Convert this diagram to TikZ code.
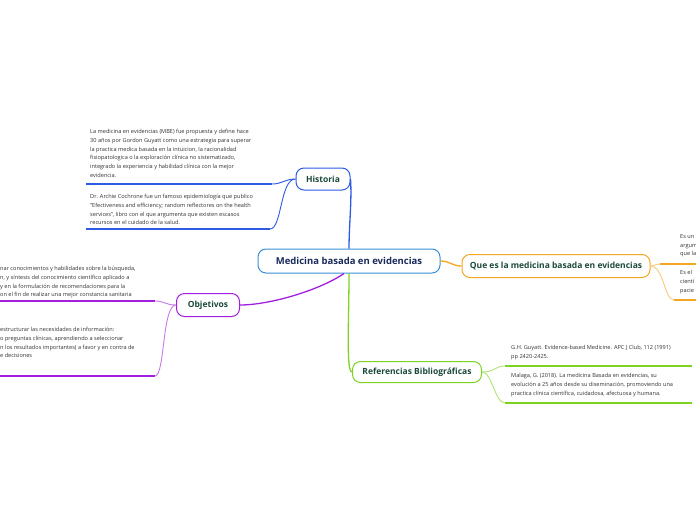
\documentclass[tikz,border=0pt]{standalone}
\usepackage{fontspec}
\setmainfont{Open Sans}
\definecolor{tblue}{HTML}{2D5BE3}
\definecolor{cblue}{HTML}{3A8FD6}
\definecolor{torange}{HTML}{F5A623}
\definecolor{tgreen}{HTML}{7ED321}
\definecolor{tpurple}{HTML}{A21FE0}
\definecolor{ttext}{HTML}{1B4A3A}
\definecolor{mtext}{HTML}{1A2A5A}
\begin{document}
\begin{tikzpicture}[x=1pt,y=-1pt,
  topic/.style={draw,line width=1pt,rounded corners=8pt,inner sep=0pt,font=\fontsize{8.5}{10}\selectfont\bfseries,text=ttext},
  sub/.style={anchor=north west,align=left,inner sep=0pt,font=\fontsize{5.6}{8.8}\selectfont,text=black!80},
  ul/.style={line width=1.2pt},
  conn/.style={line width=0.9pt}]
\useasboundingbox (0,0) rectangle (696,520);
\fill[white] (0,0) rectangle (696,520);
% central
\node[topic,draw=cblue,text=mtext,minimum width=182pt,minimum height=24pt,font=\fontsize{9.5}{11}\selectfont\bfseries] (c) at (349,261) {Medicina basada en evidencias};
% Historia
\node[topic,draw=tblue,minimum width=54pt,minimum height=22pt] (h) at (323,179) {Historia};
\node[sub] (h1) at (90,129) {La medicina en evidencias (MBE) fue propuesta y define hace\\30 años por Gordon Guyatt como una estrategia para superar\\la practica medica basada en la intuicion, la racionalidad\\fisiopatologica o la exploración clínica no sistematizado,\\integrado la experiencia y habilidad clínica con la mejor\\evidencia.};
\node[sub] (h2) at (90,194) {Dr. Archie Cochrone fue un famoso epidemiología que publico\\"Efectiveness and efficiency; random reflectores on the health\\services", libro con el que argumenta que existen escasos\\recursos en el cuidado de la salud.};
\coordinate (h1a) at (86,184); \coordinate (h1b) at (272,184);
\coordinate (h2a) at (86,229); \coordinate (h2b) at (270,229);
\draw[tblue,ul] (h1a) -- (h1b); \draw[tblue,ul] (h2a) -- (h2b);
\draw[tblue,conn] (h.west) .. controls (285,179) and (282,184) .. (h1b);
\draw[tblue,conn] (h.west) .. controls (280,179) and (282,229) .. (h2b);
\draw[tblue,line width=1.3pt] (c.north) .. controls (349,225) and (352,200) .. (h.east);
% Que es
\node[topic,draw=torange,minimum width=188pt,minimum height=23pt] (q) at (556,266) {Que es la medicina basada en evidencias};
\draw[torange,line width=1.3pt] (c.east) .. controls (450,261) and (452,266) .. (q.west);
\node[sub] (q1) at (680,234) {Es un\\argum\\que la};
\node[sub] (q2) at (680,270) {Es el \\cientí\\pacie};
\coordinate (q1a) at (660,264); \coordinate (q1b) at (696,264);
\coordinate (q2a) at (674,300); \coordinate (q2b) at (696,300);
\draw[torange,ul] (q1a) -- (q1b); \draw[torange,ul] (q2a) -- (q2b);
\draw[torange!60,conn] (q.east) .. controls (655,266) and (655,264) .. (q1a);
\draw[torange!60,conn] (q.east) .. controls (664,266) and (664,300) .. (q2a);
% Referencias
\node[topic,draw=tgreen,minimum width=129pt,minimum height=21pt] (r) at (417,372) {Referencias Bibliográficas};
\draw[tgreen,line width=1.3pt] (c.south) .. controls (349,320) and (346,372) .. (r.west);
\node[sub] (r1) at (511,345) {G.H. Guyatt. Evidence-based Medicine. APC J Club, 112 (1991)\\pp 2420-2425.};
\node[sub] (r2) at (511,373) {Malaga, G. (2018). La medicina Basada en evidencias, su\\evolución a 25 años desde su diseminación, promoviendo una\\practica clínica científica, cuidadosa, afectuosa y humana.};
\coordinate (r1a) at (505,366); \coordinate (r1b) at (692,366);
\coordinate (r2a) at (505,403); \coordinate (r2b) at (692,403);
\draw[tgreen,ul] (r1a) -- (r1b); \draw[tgreen,ul] (r2a) -- (r2b);
\draw[tgreen!60,conn] (r.east) .. controls (495,372) and (495,366) .. (r1a);
\draw[tgreen!60,conn] (r.east) .. controls (492,372) and (495,403) .. (r2a);
% Objetivos
\node[topic,draw=tpurple,minimum width=63pt,minimum height=23pt] (o) at (208,305) {Objetivos};
\draw[tpurple,line width=1.3pt] (c.south) ++(-5,0) .. controls (320,290) and (270,305) .. (o.east);
\node[sub] (o1) at (0,266) {nar conocimientos y habilidades sobre la búsqueda,\\n, y síntesis del conocimiento científico aplicado a\\ y en la formulación de recomendaciones para la\\on el fin de realizar una mejor constancia sanitaria};
\node[sub] (o2) at (0,327) { estructurar las necesidades de información:\\o preguntas clínicas, aprendiendo a seleccionar\\n los resultados importantes( a favor y en contra de\\e decisiones};
\coordinate (o1a) at (0,301); \coordinate (o1b) at (155,301);
\coordinate (o2a) at (0,376); \coordinate (o2b) at (155,376);
\draw[tpurple,ul] (o1a) -- (o1b); \draw[tpurple,ul] (o2a) -- (o2b);
\draw[tpurple!60,conn] (o.west) .. controls (165,305) and (165,301) .. (o1b);
\draw[tpurple!60,conn] (o.west) .. controls (162,305) and (165,376) .. (o2b);
\end{tikzpicture}
\end{document}
